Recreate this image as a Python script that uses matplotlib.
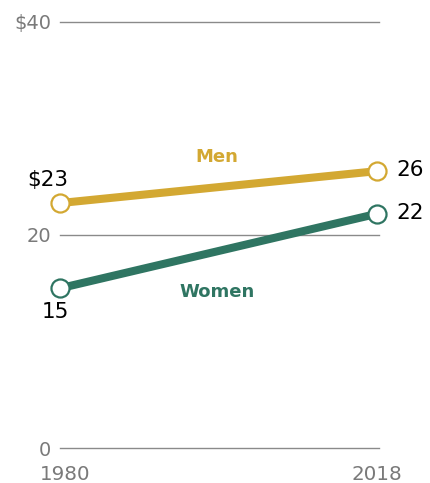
import matplotlib.pyplot as plt

# data (median hourly wage, dollars)
years = [1980, 2018]
men = [23, 26]
women = [15, 22]
y_ticks = [0, 20, 40]
y_tick_labels = ["0", "20", "$40"]

gold = "#D3A832"
teal = "#2F7562"
gray = "#7a7a7a"

plt.rcParams['font.family'] = ['DejaVu Sans']

fig = plt.figure(figsize=(4.3, 4.83), dpi=100)
ax = fig.add_axes([60 / 430, 35 / 483, 319 / 430, 426 / 483])
ax.set_xlim(1980, 2018.2)
ax.set_ylim(0, 40)

# gridlines
for t in y_ticks:
    ax.axhline(t, color="#8a8a8a", lw=1.0, zorder=1, clip_on=False)
ax.set_yticks(y_ticks)
ax.set_yticklabels(y_tick_labels, color=gray, fontsize=14)
ax.tick_params(axis="y", length=0, pad=6.5)
ax.set_xticks([])
for s in ax.spines.values():
    s.set_visible(False)

# lines
ax.plot(years, men, color=gold, lw=5.8, solid_capstyle="butt", zorder=3,
        marker="o", markersize=13, markerfacecolor="white",
        markeredgecolor=gold, markeredgewidth=1.6, clip_on=False)
ax.plot(years, women, color=teal, lw=5.8, solid_capstyle="butt", zorder=3,
        marker="o", markersize=13, markerfacecolor="white",
        markeredgecolor=teal, markeredgewidth=1.6, clip_on=False)

# x labels under the axis
ax.text(years[0] - 2.4, -2.5, str(years[0]), color=gray, fontsize=14.3,
        ha="left", va="center")
ax.text(years[1] + 3.0, -2.5, str(years[1]), color=gray, fontsize=14.3,
        ha="right", va="center")

# value labels
ax.text(years[0] - 1.45, 25.2, "$" + str(men[0]), fontsize=15.5,
        ha="center", va="center", color="black")
ax.text(years[1] + 2.3, men[1] + 0.1, str(men[1]), fontsize=15.5,
        ha="left", va="center", color="black")
ax.text(years[0] - 0.5, 12.8, str(women[0]), fontsize=15.5,
        ha="center", va="center", color="black")
ax.text(years[1] + 2.3, women[1] + 0.1, str(women[1]), fontsize=15.5,
        ha="left", va="center", color="black")

# series names
ax.text(1998.8, 27.3, "Men", color=gold, fontsize=13, fontweight="bold",
        ha="center", va="center")
ax.text(1998.8, 14.65, "Women", color=teal, fontsize=13, fontweight="bold",
        ha="center", va="center")

fig.savefig("out.png", dpi=100)
